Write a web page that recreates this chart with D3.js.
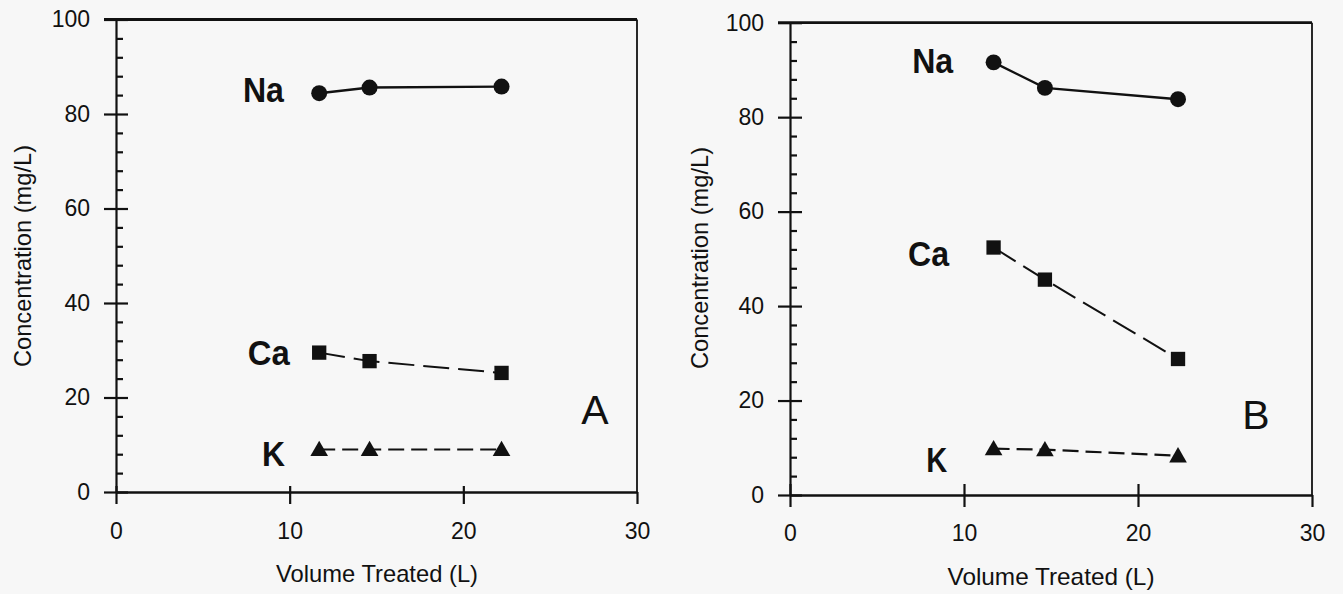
<!DOCTYPE html>
<html><head><meta charset="utf-8">
<script src="https://cdn.jsdelivr.net/npm/d3@7"></script>
<style>
body{margin:0;background:#f7f7f7}
svg{display:block;background:#f7f7f7}
text{font-family:"Liberation Sans",Arial,Helvetica,sans-serif;fill:#111}
</style>
</head><body>
<svg id="chart" width="1343" height="594"></svg>
<script>
// ---- data ----
const ions = ["Na", "Ca", "K"];
const xTicks = [0, 10, 20, 30];
const yTicks = [0, 20, 40, 60, 80, 100];
const yMinorTicks = [4, 8, 12, 16, 24, 28, 32, 36, 44, 48, 52, 56, 64, 68, 72, 76, 84, 88, 92, 96];

const volumeA = [11.7, 14.6, 22.2];
const naA = [84.4, 85.6, 85.8];
const caA = [29.5, 27.7, 25.2];
const kA  = [9.0, 9.0, 9.0];

const volumeB = [11.7, 14.65, 22.3];
const naB = [91.6, 86.2, 83.8];
const caB = [52.4, 45.6, 28.8];
const kB  = [9.8, 9.6, 8.3];

const xTitle = "Volume Treated (L)";
const yTitle = "Concentration (mg/L)";

// ion label anchors (data units)
const labelPosA = [[8.49, 85.1], [8.8, 29.6], [9.07, 8.1]];
const labelPosB = [[8.2, 92.0], [7.96, 51.2], [8.43, 7.5]];

// ---- drawing ----
const svg = d3.select("#chart");

const styles = {
  Na: {symbol: d3.symbolCircle, size: 200, dash: null, width: 2.4},
  Ca: {symbol: d3.symbolSquare, size: 205, dash: "26,9", width: 2},
  K:  {symbol: d3.symbolTriangle, size: 135, dash: "16,7", width: 2.2}
};

function panel(cfg) {
  const g = svg.append("g");
  const x = d3.scaleLinear().domain([0, 30]).range([cfg.x0, cfg.x1]);
  const y = d3.scaleLinear().domain([0, 100]).range([cfg.y0, cfg.y1]);

  const ya = g.append("g").attr("transform", `translate(${x(0)},0)`)
    .call(d3.axisLeft(y).tickValues(yTicks).tickSize(12).tickSizeOuter(0).tickPadding(14));
  ya.select(".domain").attr("stroke-width", 2.2);
  const yi = g.append("g").attr("transform", `translate(${x(0)},0)`)
    .call(d3.axisRight(y).tickValues(yTicks).tickSize(cfg.inMajor).tickFormat(""));
  yi.select(".domain").remove();
  const ym = g.append("g").attr("transform", `translate(${x(0)},0)`)
    .call(d3.axisRight(y).tickValues(yMinorTicks).tickSize(7).tickFormat(""));
  ym.select(".domain").remove();

  const xa = g.append("g").attr("transform", `translate(0,${y(0)})`)
    .call(d3.axisBottom(x).tickValues(xTicks).tickSize(12).tickSizeOuter(0).tickPadding(cfg.xPad));
  xa.select(".domain").attr("stroke-width", 2.6);
  const xi = g.append("g").attr("transform", `translate(0,${y(0)})`)
    .call(d3.axisTop(x).tickValues(xTicks.slice(0, 3)).tickSize(cfg.inX).tickFormat(""));
  xi.select(".domain").remove();

  g.selectAll(".tick line").attr("stroke", "#111").attr("stroke-width", 2.2);
  g.selectAll(".domain").attr("stroke", "#111");
  g.selectAll(".tick text").attr("font-size", 23).attr("fill", "#111")
    .style("font-family", '"Liberation Sans",Arial,sans-serif');

  g.append("line").attr("x1", x(0) - 12).attr("x2", x(30))
    .attr("y1", y(100)).attr("y2", y(100)).attr("stroke", "#111").attr("stroke-width", 2.8);
  g.append("line").attr("x1", x(30)).attr("x2", x(30))
    .attr("y1", y(100)).attr("y2", y(0)).attr("stroke", "#111").attr("stroke-width", 1.8);

  g.append("text").attr("x", cfg.xTitleX).attr("y", cfg.xTitleY)
    .attr("text-anchor", "middle").attr("font-size", 24)
    .attr("textLength", cfg.xTitleLen).attr("lengthAdjust", "spacingAndGlyphs")
    .text(xTitle);
  g.append("text")
    .attr("transform", `translate(${cfg.yTitleX},${cfg.yTitleY}) rotate(-90)`)
    .attr("text-anchor", "middle").attr("font-size", 24)
    .attr("textLength", 222).attr("lengthAdjust", "spacingAndGlyphs")
    .text(yTitle);

  const line = d3.line().x(d => x(d[0])).y(d => y(d[1]));
  cfg.series.forEach((vals, i) => {
    const ion = ions[i];
    const st = styles[ion];
    const pts = cfg.volume.map((v, j) => [v, vals[j]]);
    g.append("path").attr("d", line(pts)).attr("fill", "none")
      .attr("stroke", "#111").attr("stroke-width", st.width)
      .attr("stroke-dasharray", st.dash);
    const sym = d3.symbol().type(st.symbol).size(st.size);
    g.selectAll(null).data(pts).enter().append("path")
      .attr("d", sym)
      .attr("transform", d => `translate(${x(d[0])},${y(d[1]) + (ion === "K" ? 1.5 : 0)})`)
      .attr("fill", "#111");
    const lp = cfg.labelPos[i];
    g.append("text").attr("x", x(lp[0])).attr("y", y(lp[1]) + 12.5)
      .attr("text-anchor", "middle").attr("font-size", 35).attr("font-weight", "bold")
      .attr("textLength", cfg.labelLen[i]).attr("lengthAdjust", "spacingAndGlyphs")
      .text(ion);
  });

  g.append("text").attr("x", cfg.letterX).attr("y", cfg.letterY)
    .attr("text-anchor", "middle").attr("font-size", 41)
    .text(cfg.letter);
}

panel({
  x0: 116, x1: 637, y0: 492, y1: 19.5,
  inMajor: 12, inX: 6, xPad: 19,
  volume: volumeA, series: [naA, caA, kA], labelPos: labelPosA,
  labelLen: [41, 42, 23],
  xTitleX: 377, xTitleY: 582, xTitleLen: 202,
  yTitleX: 31, yTitleY: 256,
  letter: "A", letterX: 595, letterY: 424
});

panel({
  x0: 790, x1: 1312, y0: 495, y1: 22.7,
  inMajor: 12, inX: 11, xPad: 18,
  volume: volumeB, series: [naB, caB, kB], labelPos: labelPosB,
  labelLen: [41, 41, 21],
  xTitleX: 1051, xTitleY: 585, xTitleLen: 207,
  yTitleX: 708, yTitleY: 258,
  letter: "B", letterX: 1256, letterY: 429
});
</script>
</body></html>
